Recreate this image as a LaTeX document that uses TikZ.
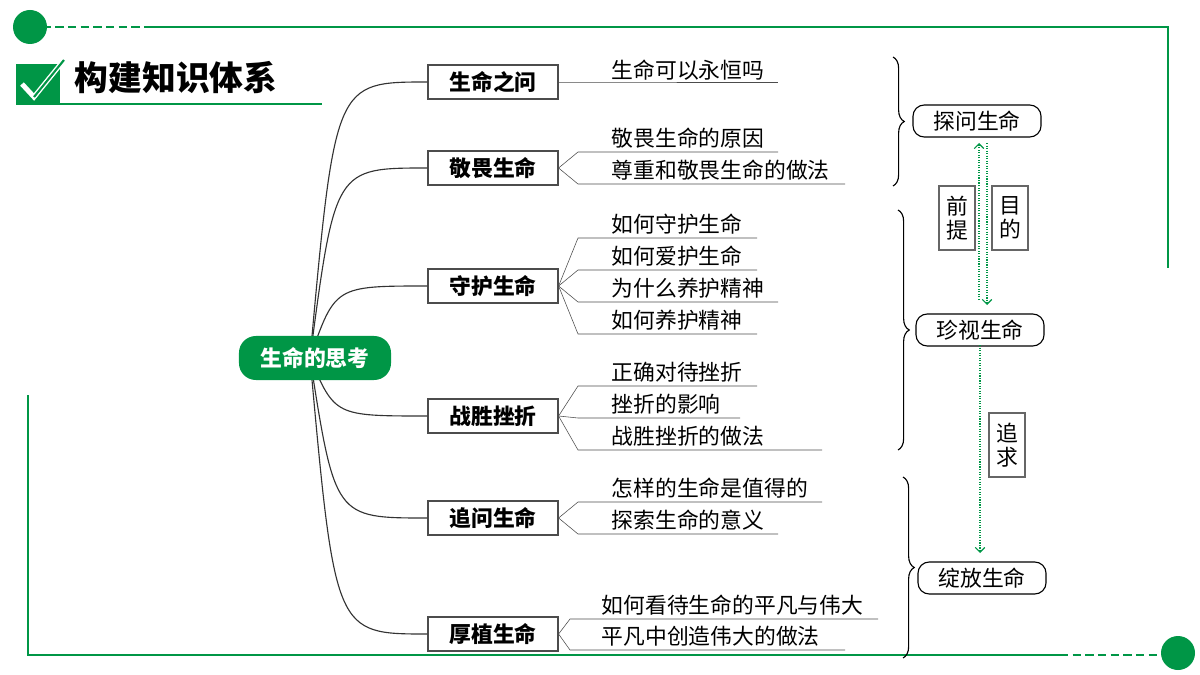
\documentclass[tikz,border=0pt]{standalone}
\usepackage{fontspec}
\setmainfont{Noto Sans CJK SC}
\usetikzlibrary{positioning,arrows.meta,decorations.pathreplacing}
\definecolor{mygreen}{RGB}{0,150,70}
\begin{document}
\begin{tikzpicture}[x=0.025cm,y=-0.025cm, font=\fontsize{15.5}{17}\selectfont,
  root/.style={rounded corners=12pt, fill=mygreen, text=white, font=\fontsize{15.5}{17}\selectfont\bfseries, minimum width=3.8cm, minimum height=1.1cm},
  topic/.style={draw=black!70, thick, fill=white, font=\fontsize{15.5}{17}\selectfont\bfseries, minimum width=3.25cm, minimum height=0.85cm},
  leaf/.style={anchor=west, inner sep=1pt},
  stage/.style={draw, thick, rounded corners=8pt, minimum width=3.2cm, minimum height=0.8cm},
  tag/.style={draw=black!60, thick, fill=white, align=center, minimum width=0.9cm, minimum height=1.6cm, inner sep=2pt},
  ar/.style={mygreen, densely dotted, thick, -{Straight Barb[scale=1.1]}}]
  \useasboundingbox (0,0) rectangle (1200,675);
  % frame
  \draw[mygreen, very thick, dash pattern=on 6pt off 3pt] (30,27) -- (150,27);
  \draw[mygreen, very thick] (150,27) -- (1168,27) -- (1168,268);
  \fill[mygreen] (30,27) circle (17);
  \draw[mygreen, very thick] (28,395) -- (28,655) -- (1060,655);
  \draw[mygreen, very thick, dash pattern=on 6pt off 3pt] (1060,655) -- (1160,655);
  \fill[mygreen] (1178,653) circle (17);
  % title
  \fill[mygreen] (16,64) rectangle (60,103);
  \draw[white, line width=3.5pt] (22,84) -- (34,97) -- (64,60);
  \draw[mygreen, line width=1.5pt] (34,97) -- (64,60);
  \node[anchor=west, font=\fontsize{24}{28}\selectfont\bfseries] (title) at (70,78) {构建知识体系};
  \draw[mygreen, thick] (16,104) -- (322,104);

  \coordinate (o) at (310,358);
  \foreach \n/\t/\y in {a/生命之问/82, b/敬畏生命/168, c/守护生命/286, d/战胜挫折/416, e/追问生命/518, f/厚植生命/634} {
    \node[topic] (\n) at (493,\y) {\t};
    \draw[black!80, thick] (o) .. controls (335,\y) .. (\n.west);
  }
  \node[root] (r) at (315,358) {生命的思考};
  % leaves
  \node[leaf] (a1) at (610,70) {生命可以永恒吗};
  \draw[black!70] (a.east) -- (578,82) -- (778,82);
  \foreach \n/\t/\y/\e in {b1/敬畏生命的原因/138/778, b2/尊重和敬畏生命的做法/170/845} {
    \node[leaf] (\n) at (610,\y) {\t};
    \draw[black!70] (b.east) -- (578,\y+14) -- (\e,\y+14);
  }
  \foreach \n/\t/\y/\e in {c1/如何守护生命/224/757, c2/如何爱护生命/256/757, c3/为什么养护精神/288/778, c4/如何养护精神/320/757} {
    \node[leaf] (\n) at (610,\y) {\t};
    \draw[black!70] (c.east) -- (578,\y+14) -- (\e,\y+14);
  }
  \foreach \n/\t/\y/\e in {d1/正确对待挫折/372/757, d2/挫折的影响/404/740, d3/战胜挫折的做法/436/822} {
    \node[leaf] (\n) at (610,\y) {\t};
    \draw[black!70] (d.east) -- (578,\y+14) -- (\e,\y+14);
  }
  \foreach \n/\t/\y/\e in {e1/怎样的生命是值得的/488/822, e2/探索生命的意义/520/778} {
    \node[leaf] (\n) at (610,\y) {\t};
    \draw[black!70] (e.east) -- (578,\y+14) -- (\e,\y+14);
  }
  \foreach \n/\t/\y/\e in {f1/如何看待生命的平凡与伟大/605/878, f2/平凡中创造伟大的做法/636/845} {
    \node[leaf] (\n) at (600,\y) {\t};
    \draw[black!70] (f.east) -- (570,\y+14) -- (\e,\y+14);
  }
  % braces
  \draw[thick, decorate, decoration={brace, amplitude=8pt}] (893,57) -- (893,186);
  \draw[thick, decorate, decoration={brace, amplitude=8pt}] (898,210) -- (898,450);
  \draw[thick, decorate, decoration={brace, amplitude=8pt}] (903,477) -- (903,658);
  % stages
  \node[stage] (s1) at (977,121) {探问生命};
  \node[stage] (s2) at (980,330) {珍视生命};
  \node[stage] (s3) at (982,578) {绽放生命};
  \coordinate (p1) at (979,300);
  \coordinate (p2) at (987,143);
  \draw[ar] (p1) -- (979,143);
  \draw[ar] (p2) -- (987,305);
  \draw[ar] (980,345) -- (980,553);
  \node[tag] (t1) at (957,218) {前\\提};
  \node[tag] (t2) at (1010,218) {目\\的};
  \node[tag] (t3) at (1007,445) {追\\求};
\end{tikzpicture}
\end{document}
